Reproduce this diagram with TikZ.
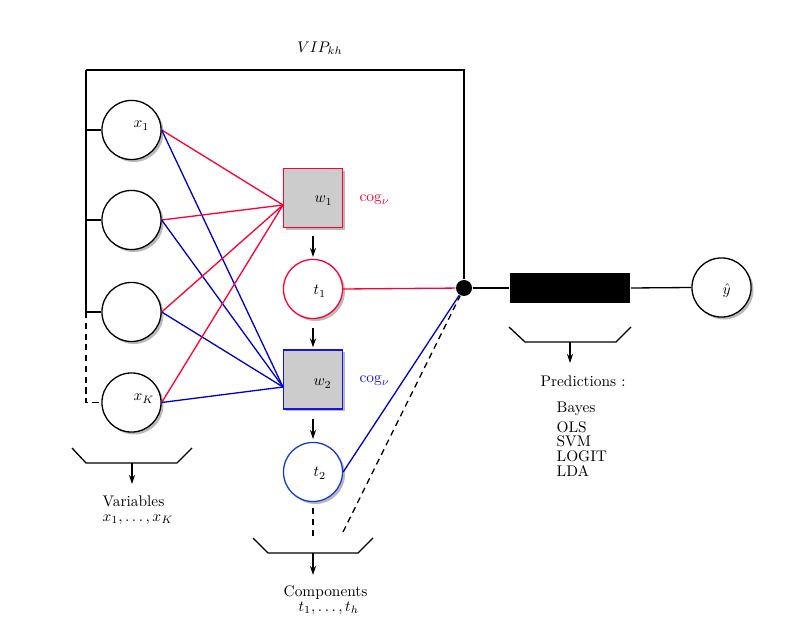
\documentclass[tikz,border=0pt]{standalone}
\usetikzlibrary{shadows,arrows.meta,calc}
\definecolor{cred}{RGB}{255,0,51}
\definecolor{cblue}{RGB}{0,0,204}
\definecolor{cblueb}{RGB}{20,60,205}
\definecolor{cbluet}{RGB}{20,20,230}
\definecolor{cgray}{RGB}{204,204,204}
\begin{document}
\begin{tikzpicture}[x=0.65pt,y=-0.65pt,line width=0.85pt,
  shad/.style={drop shadow={shadow xshift=1.6pt,shadow yshift=-1.6pt,fill=black!45,opacity=0.6}},
  varnode/.style={circle,draw=black,fill=white,minimum size=38.4pt,inner sep=0pt,shad},
  compnode/.style={circle,fill=white,minimum size=38.4pt,inner sep=0pt,shad},
  wnode/.style={rectangle,fill=cgray,minimum size=38.4pt,inner sep=0pt,shad},
  lab/.style={anchor=base west,inner sep=0pt},
  arr/.style={-{Stealth[length=6pt,width=4pt,inset=2pt]}},
  dsh/.style={dash pattern=on 4pt off 3pt}]
\useasboundingbox (0,0) rectangle (793,635);

% variable nodes
\node[varnode] (x1) at (131.5,130) {};
\node[varnode] (x2) at (131.5,220) {};
\node[varnode] (x3) at (131.5,312) {};
\node[varnode] (x4) at (131.5,402.5) {};
\node[lab] (lx1) at (133,128) {$x_1$};
\node[lab] (lx4) at (133,401) {$x_K$};

% weight and component nodes
\node[wnode,draw=cred] (w1) at (313,198) {};
\node[lab] (lw1) at (314,203) {$w_1$};
\node[lab,text=cred] (cog1) at (359,202) {cog$_\nu$};
\node[compnode,draw=cred] (t1) at (313,289) {};
\node[lab] (lt1) at (313,295) {$t_1$};
\node[wnode,draw=cbluet] (w2) at (313,379.5) {};
\node[lab] (lw2) at (313,386) {$w_2$};
\node[lab,text=cbluet] (cog2) at (359,383) {cog$_\nu$};
\node[compnode,draw=cblueb] (t2) at (313,472) {};
\node[lab] (lt2) at (313,477) {$t_2$};

\coordinate (w1in) at (283,205);
\coordinate (w2in) at (283,387);

% connections
\foreach \v in {x1,x2,x3,x4}{
  \draw[cred] (\v.east) -- (w1in);
  \draw[cblue] (\v.east) -- (w2in);
}

% frame
\coordinate (tl) at (86,70);
\coordinate (tr) at (464,70);
\node[circle,fill=black,minimum size=10.4pt,inner sep=0pt] (dot) at (464,288) {};
\draw (tl) -- (tr) -- (dot.north);
\draw (tl) -- (tl|-x3.west);
\draw[dsh] (tl|-x3.west) -- (tl|-x4.west) -- (x4.west);
\foreach \v in {x1,x2,x3}{ \draw (tl|-\v.west) -- (\v.west); }
\node (vip) at (320,48) {$VIP_{kh}$};

% arrows between w and t
\draw[arr,shorten <=5.2pt,shorten >=1.2pt] (w1) -- (t1);
\draw[arr,shorten <=5.8pt,shorten >=1.2pt] (t1) -- (w2);
\draw[arr,shorten <=5.8pt,shorten >=1.8pt] (w2) -- (t2);

% to junction
\draw[cred] (t1.east) -- (dot);
\draw[cblue] (t2.east) -- (dot);
\coordinate (dshend) at (343,532);
\draw[dsh] (dshend) -- (dot);
\coordinate (tdown) at (313,508);
\draw[dsh] (tdown) -- (313,538);

% predictor
\node[rectangle,fill=black,minimum width=78.6pt,minimum height=19.5pt,inner sep=0pt] (rect) at (570,288) {};
\node[varnode] (yh) at (721.5,287.5) {};
\node[lab] (lyh) at (722,295) {$\hat{y}$};
\draw (dot) -- (rect.west);
\draw (rect.east) -- (yh.west);

% brackets
\coordinate (bv) at (132,463);
\draw (72,448) -- (86,463) -- (177,463) -- (192,448);
\draw[arr] (bv) -- (132,484);
\node[lab] (var1) at (102,507) {Variables};
\node[lab] (var2) at (102,521) {$x_1,\ldots,x_K$};

\coordinate (bc) at (313,553);
\draw (253,538) -- (268,553) -- (358,553) -- (373,538);
\draw[arr] (bc) -- (313,575);
\node[lab] (comp1) at (283,596) {Components};
\node[lab] (comp2) at (298,611) {$t_1,\ldots,t_h$};

\coordinate (bp) at (570,342);
\draw (509,327) -- (525,342) -- (616,342) -- (631,327);
\draw[arr] (bp) -- (570,363);
\node[lab] (pred) at (540,387) {Predictions :};
\node[lab] (p1) at (556,413) {Bayes};
\node[lab] (p2) at (556,433) {OLS};
\node[lab] (p3) at (556,447) {SVM};
\node[lab] (p4) at (556,462) {LOGIT};
\node[lab] (p5) at (556,477) {LDA};
\end{tikzpicture}
\end{document}
